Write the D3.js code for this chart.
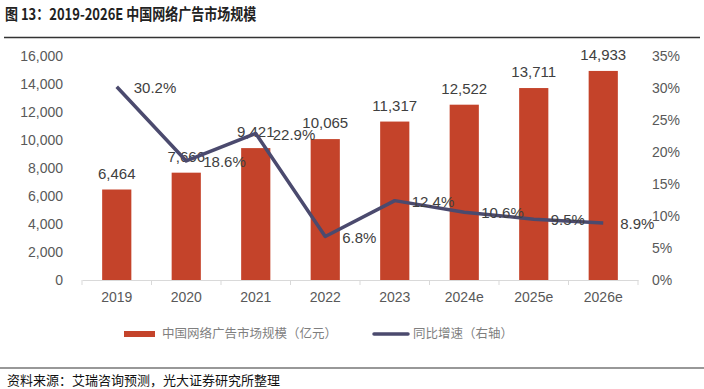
<!DOCTYPE html>
<html>
<head>
<meta charset="utf-8">
<script src="https://cdn.jsdelivr.net/npm/d3@7"></script>
<style>
  body { margin: 0; background: #fff; }
  svg { display: block; }
</style>
</head>
<body>
<div id="chart"></div>
<script>
var years = ["2019", "2020", "2021", "2022", "2023", "2024e", "2025e", "2026e"];
var marketSize = [6464, 7666, 9421, 10065, 11317, 12522, 13711, 14933];
var growth = [30.2, 18.6, 22.9, 6.8, 12.4, 10.6, 9.5, 8.9];
var leftTicks = [0, 2000, 4000, 6000, 8000, 10000, 12000, 14000, 16000];
var rightTicks = [0, 5, 10, 15, 20, 25, 30, 35];

var barColor = "#c4432a";
var lineColor = "#4b4a6e";
var textGray = "#595959";
var numFont = "'Liberation Sans', Arial, sans-serif";
var cjkFont = "'Noto Sans CJK SC', sans-serif";

var width = 704, height = 389;
var svg = d3.select("#chart").append("svg")
    .attr("width", width)
    .attr("height", height);

// title + rule (condensed look: narrow font stretched vertically)
svg.append("text")
  .text("图 13：2019-2026E 中国网络广告市场规模")
  .attr("transform", "translate(5,20) scale(1,1.2)")
  .style("font-family", cjkFont)
  .style("font-size", "13px")
  .style("font-weight", "bold")
  .style("fill", "#222");

svg.append("line")
  .attr("x1", 4).attr("x2", 700)
  .attr("y1", 37.5).attr("y2", 37.5)
  .attr("stroke", "#333").attr("stroke-width", 1.5);

// scales
var x = d3.scaleBand().domain(years).range([82, 638]).padding(0);
var y = d3.scaleLinear().domain([0, 16000]).range([280, 56]);
var y2 = d3.scaleLinear().domain([0, 35]).range([280, 56]);
var barW = x.bandwidth() * 0.42;

// left axis labels
svg.append("g").selectAll("text")
  .data(leftTicks)
  .enter().append("text")
    .attr("x", 63)
    .attr("y", function(d) { return y(d); })
    .attr("dy", "0.35em")
    .attr("text-anchor", "end")
    .text(d3.format(","))
    .style("font-family", numFont)
    .style("font-size", "14px")
    .style("fill", textGray);

// right axis labels
svg.append("g").selectAll("text")
  .data(rightTicks)
  .enter().append("text")
    .attr("x", 652)
    .attr("y", function(d) { return y2(d); })
    .attr("dy", "0.35em")
    .text(function(d) { return d + "%"; })
    .style("font-family", numFont)
    .style("font-size", "14px")
    .style("fill", textGray);

// bars
svg.append("g").selectAll("rect")
  .data(marketSize)
  .enter().append("rect")
    .attr("x", function(d, i) { return x(years[i]) + (x.bandwidth() - barW) / 2; })
    .attr("y", function(d) { return y(d); })
    .attr("width", barW)
    .attr("height", function(d) { return y(0) - y(d); })
    .attr("fill", barColor);

// x axis
var xAxis = d3.axisBottom(x).tickSize(0).tickPadding(12);
var gx = svg.append("g")
  .attr("transform", "translate(0,280)")
  .call(xAxis);
gx.select(".domain").attr("stroke", "#d9d9d9").attr("stroke-width", 1.2);
gx.selectAll("text")
  .style("font-family", numFont)
  .style("font-size", "14px")
  .style("fill", textGray);
gx.selectAll(".sep")
  .data(years.concat(["end"]))
  .enter().append("line")
    .attr("class", "sep")
    .attr("x1", function(d, i) { return 82 + i * x.step(); })
    .attr("x2", function(d, i) { return 82 + i * x.step(); })
    .attr("y1", 0).attr("y2", 5)
    .attr("stroke", "#d9d9d9");

// bar labels
svg.append("g").selectAll("text")
  .data(marketSize)
  .enter().append("text")
    .attr("x", function(d, i) { return x(years[i]) + x.bandwidth() / 2; })
    .attr("y", function(d) { return y(d) - 16; })
    .attr("dy", "0.35em")
    .attr("text-anchor", "middle")
    .text(d3.format(","))
    .style("font-family", numFont)
    .style("font-size", "15px")
    .style("fill", "#404040");

// growth line
var line = d3.line()
  .x(function(d, i) { return x(years[i]) + x.bandwidth() / 2; })
  .y(function(d) { return y2(d); });

svg.append("path")
  .datum(growth)
  .attr("d", line)
  .attr("fill", "none")
  .attr("stroke", lineColor)
  .attr("stroke-width", 3.5)
  .attr("stroke-linejoin", "round");

svg.append("g").selectAll("text")
  .data(growth)
  .enter().append("text")
    .attr("x", function(d, i) { return x(years[i]) + x.bandwidth() / 2 + 17; })
    .attr("y", function(d) { return y2(d) + 1; })
    .attr("dy", "0.35em")
    .text(function(d) { return d.toFixed(1) + "%"; })
    .style("font-family", numFont)
    .style("font-size", "15px")
    .style("fill", "#404040");

// legend
var lg = svg.append("g");
lg.append("rect")
  .attr("x", 124).attr("y", 331)
  .attr("width", 31).attr("height", 6)
  .attr("fill", barColor);
lg.append("text")
  .attr("x", 162).attr("y", 334)
  .attr("dy", "0.35em")
  .text("中国网络广告市场规模（亿元）")
  .style("font-family", cjkFont)
  .style("font-size", "12.5px")
  .style("fill", "#7f7f7f");
lg.append("line")
  .attr("x1", 374).attr("x2", 408)
  .attr("y1", 334).attr("y2", 334)
  .attr("stroke", lineColor)
  .attr("stroke-width", 3.5)
  .attr("stroke-linecap", "round");
lg.append("text")
  .attr("x", 413).attr("y", 334)
  .attr("dy", "0.35em")
  .text("同比增速（右轴）")
  .style("font-family", cjkFont)
  .style("font-size", "12.5px")
  .style("fill", "#7f7f7f");

// footer
svg.append("line")
  .attr("x1", 0).attr("x2", 704)
  .attr("y1", 368).attr("y2", 368)
  .attr("stroke", "#333").attr("stroke-width", 1.2);
svg.append("text")
  .attr("x", 7).attr("y", 380)
  .attr("dy", "0.35em")
  .text("资料来源：艾瑞咨询预测，光大证券研究所整理")
  .style("font-family", cjkFont)
  .style("font-size", "13px")
  .style("fill", "#111");
</script>
</body>
</html>
